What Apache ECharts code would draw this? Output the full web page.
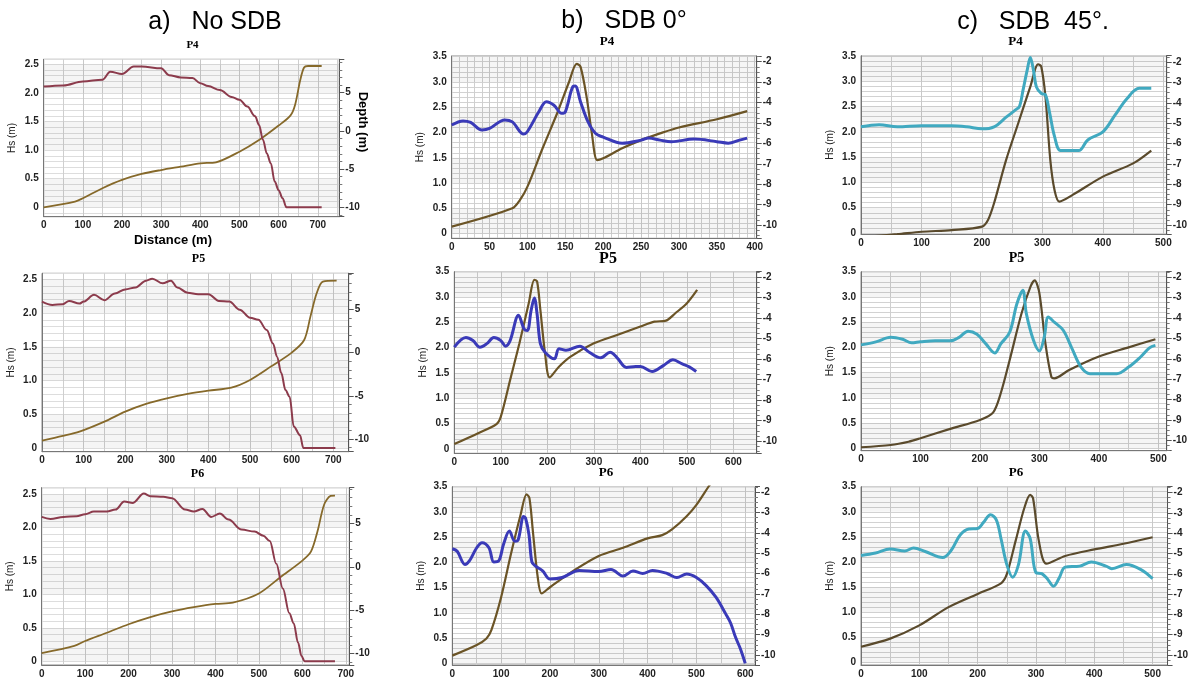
<!DOCTYPE html>
<html>
<head>
<meta charset="utf-8">
<script src="https://cdn.jsdelivr.net/npm/echarts@6/dist/echarts.min.js"></script>
<style>
  html, body { margin: 0; background: #fff; }
  #main { width: 1191px; height: 679px; }
</style>
</head>
<body>
<div id="main"></div>
<script>
// ---- a) No SDB ----
const aP4_hsX = [0, 50, 100, 150, 170, 200, 230, 250, 300, 320, 350, 380, 400, 420, 450, 480, 500, 520, 540, 550, 560, 570, 580, 590, 600, 610, 620, 710];
const aP4_hs = [2.11, 2.13, 2.20, 2.23, 2.37, 2.33, 2.46, 2.46, 2.43, 2.31, 2.27, 2.26, 2.17, 2.12, 2.05, 1.93, 1.88, 1.76, 1.59, 1.44, 1.18, 0.94, 0.77, 0.45, 0.30, 0.16, 0, 0];
const aP4_dX = [0, 80, 100, 150, 200, 250, 300, 350, 400, 440, 500, 550, 600, 630, 642, 655, 665, 675, 710];
const aP4_depth = [-10, -9.26, -8.82, -7.51, -6.42, -5.64, -5.12, -4.68, -4.24, -4.11, -2.72, -1.19, 0.7, 2.0, 3.4, 6.6, 8.3, 8.49, 8.49];

const aP5_hsX = [0, 25, 50, 65, 90, 100, 125, 150, 175, 200, 225, 250, 265, 290, 310, 325, 350, 375, 400, 425, 450, 475, 500, 520, 540, 555, 565, 575, 585, 595, 605, 620, 628, 705];
const aP5_hs = [2.17, 2.12, 2.13, 2.18, 2.14, 2.17, 2.27, 2.19, 2.29, 2.35, 2.38, 2.48, 2.51, 2.44, 2.48, 2.38, 2.30, 2.28, 2.28, 2.18, 2.17, 2.05, 1.93, 1.90, 1.75, 1.55, 1.35, 1.11, 0.86, 0.76, 0.32, 0.19, 0, 0];
const aP5_dX = [0, 50, 90, 150, 200, 250, 300, 350, 400, 455, 500, 550, 600, 630, 645, 660, 675, 708];
const aP5_depth = [-10.19, -9.65, -9.15, -7.99, -6.84, -5.95, -5.30, -4.79, -4.41, -4.06, -3.17, -1.63, -0.01, 1.45, 4.15, 6.85, 8.20, 8.32];

const aP6_hsX = [0, 20, 50, 80, 100, 120, 150, 170, 190, 210, 235, 250, 280, 300, 330, 350, 370, 390, 410, 430, 460, 490, 510, 525, 540, 555, 570, 580, 590, 598, 605, 675];
const aP6_hs = [2.16, 2.13, 2.16, 2.17, 2.20, 2.24, 2.24, 2.27, 2.39, 2.37, 2.51, 2.47, 2.46, 2.44, 2.27, 2.24, 2.28, 2.16, 2.21, 2.12, 1.97, 1.94, 1.88, 1.80, 1.46, 1.09, 0.72, 0.57, 0.28, 0.08, 0, 0];
const aP6_dX = [0, 75, 100, 150, 200, 250, 300, 350, 400, 440, 500, 550, 600, 620, 635, 650, 665, 675];
const aP6_depth = [-9.96, -9.13, -8.56, -7.61, -6.63, -5.80, -5.15, -4.66, -4.28, -4.13, -3.07, -1.17, 0.72, 1.78, 4.13, 7.16, 8.18, 8.22];

// ---- b) SDB 0° ----
const bP4_hsX = [0, 15, 25, 40, 50, 70, 80, 95, 100, 115, 125, 135, 145, 150, 160, 163, 170, 180, 190, 200, 225, 250, 260, 275, 290, 320, 350, 365, 380, 390];
const bP4_hs = [2.15, 2.23, 2.20, 2.05, 2.08, 2.25, 2.21, 1.97, 2.02, 2.41, 2.61, 2.54, 2.38, 2.41, 2.91, 2.92, 2.61, 2.21, 1.98, 1.91, 1.79, 1.85, 1.89, 1.85, 1.82, 1.87, 1.82, 1.79, 1.85, 1.89];
const bP4_dX = [0, 80, 90, 100, 120, 140, 155, 165, 170, 178, 185, 192, 200, 225, 250, 275, 300, 350, 390];
const bP4_depth = [-10.08, -9.18, -8.78, -8.12, -6.24, -4.45, -2.98, -2.11, -2.24, -3.71, -5.51, -6.82, -6.73, -6.24, -5.84, -5.51, -5.22, -4.82, -4.42];

const bP5_hsX = [0, 25, 40, 55, 70, 85, 100, 110, 120, 138, 150, 157, 165, 172, 178, 185, 195, 215, 225, 240, 270, 290, 315, 335, 350, 370, 390, 400, 425, 450, 470, 490, 505, 520];
const bP5_hs = [2.01, 2.20, 2.14, 2.01, 2.08, 2.20, 2.14, 2.03, 2.14, 2.64, 2.37, 2.34, 2.73, 2.98, 2.66, 2.08, 1.91, 1.78, 1.98, 1.95, 2.03, 1.91, 1.80, 1.91, 1.80, 1.61, 1.63, 1.63, 1.53, 1.65, 1.76, 1.68, 1.62, 1.53];
const bP5_dX = [0, 50, 90, 100, 120, 140, 160, 172, 178, 185, 195, 205, 225, 250, 300, 350, 400, 430, 455, 475, 500, 522];
const bP5_depth = [-10.15, -9.63, -9.19, -8.81, -7.02, -5.23, -3.27, -2.13, -2.21, -3.60, -5.71, -6.89, -6.37, -5.88, -5.23, -4.82, -4.41, -4.17, -4.12, -3.76, -3.27, -2.62];

const bP6_hsX = [0, 10, 26, 35, 50, 61, 75, 85, 95, 105, 117, 128, 135, 146, 150, 157, 163, 170, 185, 200, 225, 260, 300, 325, 350, 370, 390, 410, 440, 460, 480, 500, 520, 540, 560, 570, 580, 590, 600];
const bP6_hs = [2.27, 2.22, 1.96, 2.03, 2.29, 2.39, 2.29, 2.01, 2.03, 2.36, 2.62, 2.42, 2.45, 2.91, 2.88, 2.55, 2.01, 1.93, 1.83, 1.67, 1.70, 1.84, 1.82, 1.86, 1.73, 1.83, 1.78, 1.84, 1.78, 1.70, 1.77, 1.70, 1.54, 1.31, 0.98, 0.80, 0.52, 0.29, 0];
const bP6_dX = [0, 50, 70, 80, 100, 120, 140, 152, 158, 165, 175, 183, 200, 250, 300, 350, 400, 430, 450, 480, 500, 525, 540];
const bP6_depth = [-10.03, -9.51, -9.19, -8.78, -7.16, -5.05, -3.10, -2.10, -2.29, -3.91, -6.18, -6.97, -6.67, -5.83, -5.13, -4.73, -4.27, -4.11, -3.83, -3.18, -2.62, -1.72, -1.2];

// ---- c) SDB 45° ----
const cP4_hsX = [0, 30, 60, 100, 150, 175, 200, 220, 240, 255, 262, 268, 275, 280, 285, 290, 298, 305, 312, 320, 330, 350, 360, 375, 400, 420, 440, 460, 480];
const cP4_hs = [2.10, 2.14, 2.10, 2.12, 2.12, 2.10, 2.06, 2.10, 2.29, 2.43, 2.50, 2.83, 3.23, 3.47, 3.23, 2.89, 2.76, 2.73, 2.37, 1.91, 1.63, 1.63, 1.63, 1.84, 2.00, 2.33, 2.66, 2.86, 2.86];
const cP4_dX = [0, 60, 100, 150, 200, 210, 220, 240, 260, 280, 293, 298, 305, 313, 320, 328, 350, 400, 450, 480];
const cP4_depth = [-10.6, -10.45, -10.33, -10.25, -10.08, -9.75, -8.93, -6.80, -5.00, -3.20, -2.10, -2.21, -3.69, -6.80, -8.28, -8.85, -8.52, -7.62, -6.97, -6.34];

const cP5_hsX = [0, 25, 50, 70, 85, 100, 125, 150, 165, 180, 195, 210, 225, 235, 250, 262, 272, 278, 290, 300, 308, 315, 325, 340, 355, 370, 385, 400, 430, 450, 470, 485, 495];
const cP5_hs = [2.05, 2.11, 2.20, 2.16, 2.09, 2.11, 2.13, 2.13, 2.20, 2.32, 2.26, 2.07, 1.89, 2.07, 2.30, 2.86, 3.13, 2.67, 2.14, 1.93, 2.20, 2.60, 2.50, 2.34, 1.97, 1.61, 1.48, 1.48, 1.48, 1.61, 1.81, 1.99, 2.04];
const cP5_dX = [0, 50, 80, 100, 150, 200, 222, 235, 250, 270, 285, 292, 300, 310, 320, 325, 350, 400, 450, 495];
const cP5_depth = [-10.34, -10.23, -10.07, -9.90, -9.44, -9.00, -8.64, -7.69, -6.06, -3.77, -2.46, -2.16, -2.79, -5.24, -6.88, -6.96, -6.55, -5.89, -5.44, -5.04];

const cP6_hsX = [0, 25, 50, 75, 90, 110, 140, 155, 170, 185, 200, 210, 222, 232, 240, 250, 260, 270, 282, 290, 300, 310, 320, 330, 340, 350, 375, 395, 420, 430, 455, 480, 500];
const cP6_hs = [2.13, 2.18, 2.26, 2.22, 2.28, 2.21, 2.09, 2.24, 2.54, 2.66, 2.67, 2.79, 2.94, 2.84, 2.47, 1.95, 1.70, 1.95, 2.62, 2.47, 1.79, 1.77, 1.66, 1.52, 1.69, 1.90, 1.92, 2.00, 1.92, 1.87, 1.95, 1.85, 1.67];
const cP6_dX = [0, 50, 100, 150, 200, 240, 250, 265, 280, 290, 295, 305, 318, 350, 400, 450, 500];
const cP6_depth = [-9.59, -9.19, -8.54, -7.64, -6.99, -6.47, -6.02, -4.39, -2.76, -2.11, -2.28, -4.39, -5.50, -5.12, -4.80, -4.52, -4.20];

const hsBands = [[0, 0.5], [1.0, 1.5], [2.0, 2.5], [3.0, 3.5]];

// column looks
const colStyle = {
  a: { hs: '#8c3b4c', hsW: 2, hsMono: 'x', dep: '#86692a', depW: 1.8, depStep: 5, depMinor: 5, hline: '#dddddd' },
  b: { hs: '#3a3ab8', hsW: 3, hsMono: null, dep: '#6b5426', depW: 2.2, depStep: 1, depMinor: 4, hline: '#d2d2d2' },
  c: { hs: '#40a9c0', hsW: 3, hsMono: null, dep: '#5a4a2c', depW: 2.2, depStep: 1, depMinor: 4, hline: '#d2d2d2' }
};

// box = [left, top, right, bottom] in px
const panels = [
  { col: 'a', box: [43.7, 59.3, 339.3, 216.7], xMax: 755, xStep: 100, xMinor: 2, hsR: [-0.164, 2.587], depR: [-11.23, 9.37], hsX: aP4_hsX, hs: aP4_hs, dX: aP4_dX, dep: aP4_depth },
  { col: 'a', box: [42, 273.3, 348.7, 451.7], xMax: 737, xStep: 100, xMinor: 2, hsR: [-0.055, 2.589], depR: [-11.47, 9.16], hsX: aP5_hsX, hs: aP5_hs, dX: aP5_dX, dep: aP5_depth },
  { col: 'a', box: [41.7, 487.7, 349.3, 667.7], xMax: 708, xStep: 100, xMinor: 2, hsR: [-0.055, 2.597], depR: [-11.33, 9.13], hsX: aP6_hsX, hs: aP6_hs, dX: aP6_dX, dep: aP6_depth },
  { col: 'b', box: [451.7, 56, 756.7, 238.3], xMax: 402.6, xStep: 50, xMinor: 5, hsR: [-0.091, 3.513], depR: [-10.65, -1.72], hsX: bP4_hsX, hs: bP4_hs, dX: bP4_dX, dep: bP4_depth },
  { col: 'b', box: [454.3, 271.7, 756.7, 453.3], xMax: 650, xStep: 100, xMinor: 2, hsR: [-0.085, 3.5], depR: [-10.6, -1.73], hsX: bP5_hsX, hs: bP5_hs, dX: bP5_dX, dep: bP5_depth },
  { col: 'b', box: [452.3, 486.7, 755, 666.7], xMax: 620, xStep: 100, xMinor: 2, hsR: [-0.033, 3.5], depR: [-10.49, -1.73], hsX: bP6_hsX, hs: bP6_hs, dX: bP6_dX, dep: bP6_depth },
  { col: 'c', box: [861, 55.7, 1166.7, 234], xMax: 505.5, xStep: 100, xMinor: 2, hsR: [-0.02, 3.506], depR: [-10.44, -1.68], hsX: cP4_hsX, hs: cP4_hs, dX: cP4_dX, dep: cP4_depth },
  { col: 'c', box: [861, 271.7, 1166.7, 450.7], xMax: 514, xStep: 100, xMinor: 2, hsR: [-0.047, 3.5], depR: [-10.51, -1.73], hsX: cP5_hsX, hs: cP5_hs, dX: cP5_dX, dep: cP5_depth },
  { col: 'c', box: [861, 486.7, 1168.3, 666.7], xMax: 525.6, xStep: 100, xMinor: 2, hsR: [-0.047, 3.5], depR: [-10.49, -1.71], hsX: cP6_hsX, hs: cP6_hs, dX: cP6_dX, dep: cP6_depth }
];

const zip = (xs, ys) => xs.map((x, i) => [x, ys[i]]);
const isMult = (v, s) => Math.abs(v / s - Math.round(v / s)) < 1e-6;
const hsLabel = v => {
  if (v < -1e-9 || !isMult(v, 0.5)) return '';
  return Math.abs(v) < 1e-9 ? '0' : v.toFixed(1);
};
const tickFont = { fontSize: 10, fontWeight: 'bold', color: '#222', fontFamily: 'Liberation Sans' };

const grid = [], xAxis = [], yAxis = [], series = [];
panels.forEach((p, i) => {
  const st = colStyle[p.col];
  const [L, T, R, B] = p.box;
  grid.push({ left: L, top: T, width: R - L, height: B - T, show: true, borderColor: '#8a8a8a', borderWidth: 1, backgroundColor: '#fff' });
  xAxis.push({
    type: 'value', gridIndex: i, min: 0, max: p.xMax,
    minInterval: p.xStep, maxInterval: p.xStep, splitNumber: 8,
    axisLine: { show: true, onZero: false, lineStyle: { color: '#777' } },
    axisTick: { show: false },
    axisLabel: Object.assign({ margin: 4, formatter: v => isMult(v, p.xStep) ? String(Math.round(v)) : '' }, tickFont),
    splitLine: { show: true, lineStyle: { color: '#c9c9c9' } },
    minorTick: { show: false, splitNumber: p.xMinor },
    minorSplitLine: { show: true, lineStyle: { color: '#cfcfcf' } }
  });
  yAxis.push({
    type: 'value', gridIndex: i, position: 'left', min: p.hsR[0], max: p.hsR[1],
    minInterval: 0.5, maxInterval: 0.5, splitNumber: 7,
    name: 'Hs (m)', nameLocation: 'middle', nameGap: 26,
    nameTextStyle: { fontSize: 10, color: '#222', fontFamily: 'Liberation Sans' },
    axisLine: { show: true, onZero: false, lineStyle: { color: '#777' } },
    axisTick: { show: false },
    axisLabel: Object.assign({ margin: 5, formatter: hsLabel }, tickFont),
    splitLine: { show: true, lineStyle: { color: st.hline } },
    minorTick: { show: false, splitNumber: 5 },
    minorSplitLine: { show: true, lineStyle: { color: st.hline } }
  });
  yAxis.push({
    type: 'value', gridIndex: i, position: 'right', min: p.depR[0], max: p.depR[1],
    minInterval: st.depStep, maxInterval: st.depStep, splitNumber: 10,
    axisLine: { show: true, onZero: false, lineStyle: { color: '#555' } },
    axisTick: { show: true, length: 5, lineStyle: { color: '#555' } },
    minorTick: { show: true, splitNumber: st.depMinor, length: 3, lineStyle: { color: '#777' } },
    axisLabel: Object.assign({ margin: 6, formatter: v => isMult(v, st.depStep) ? String(Math.round(v)) : '' }, tickFont),
    splitLine: { show: false }
  });
  series.push({
    type: 'line', xAxisIndex: i, yAxisIndex: 2 * i, data: zip(p.hsX, p.hs),
    showSymbol: false, smooth: 0.35, smoothMonotone: st.hsMono, z: 3,
    lineStyle: { color: st.hs, width: st.hsW },
    markArea: { silent: true, itemStyle: { color: 'rgba(0,0,0,0.04)' },
      data: hsBands.map(b => [{ yAxis: b[0] }, { yAxis: b[1] }]) }
  });
  series.push({
    type: 'line', xAxisIndex: i, yAxisIndex: 2 * i + 1, data: zip(p.dX, p.dep),
    showSymbol: false, smooth: 0.3, z: 2,
    lineStyle: { color: st.dep, width: st.depW }
  });
});

const sans = 'Liberation Sans', serif = 'Liberation Serif';
const txt = (x, y, text, size, font, weight, extra) => Object.assign({
  type: 'text', x: x, y: y, silent: true,
  style: { text: text, fontSize: size, fontFamily: font, fontWeight: weight || 'normal', fill: '#000', textAlign: 'center', textVerticalAlign: 'middle' }
}, extra || {});

const graphic = [
  txt(215, 22, 'a)   No SDB', 25, sans),
  txt(624, 21, 'b)   SDB 0°', 25, sans),
  txt(1033, 22, 'c)   SDB  45°.', 25, sans),
  txt(192.5, 45, 'P4', 11, serif, 'bold'),
  txt(607, 42, 'P4', 13, serif, 'bold'),
  txt(1015.5, 42, 'P4', 13, serif, 'bold'),
  txt(198.5, 259, 'P5', 12, serif, 'bold'),
  txt(608, 259, 'P5', 16, serif, 'bold'),
  txt(1016.5, 258, 'P5', 14, serif, 'bold'),
  txt(197.5, 474, 'P6', 12, serif, 'bold'),
  txt(606, 473, 'P6', 13, serif, 'bold'),
  txt(1016, 473, 'P6', 13, serif, 'bold'),
  txt(173, 240, 'Distance (m)', 13, sans, 'bold'),
  txt(363, 122, 'Depth (m)', 13, sans, 'bold', { rotation: -Math.PI / 2 })
];

const chart = echarts.init(document.getElementById('main'), null, { renderer: 'canvas' });
chart.setOption({
  animation: false,
  backgroundColor: '#fff',
  grid: grid,
  xAxis: xAxis,
  yAxis: yAxis,
  series: series,
  graphic: graphic
});
</script>
</body>
</html>
